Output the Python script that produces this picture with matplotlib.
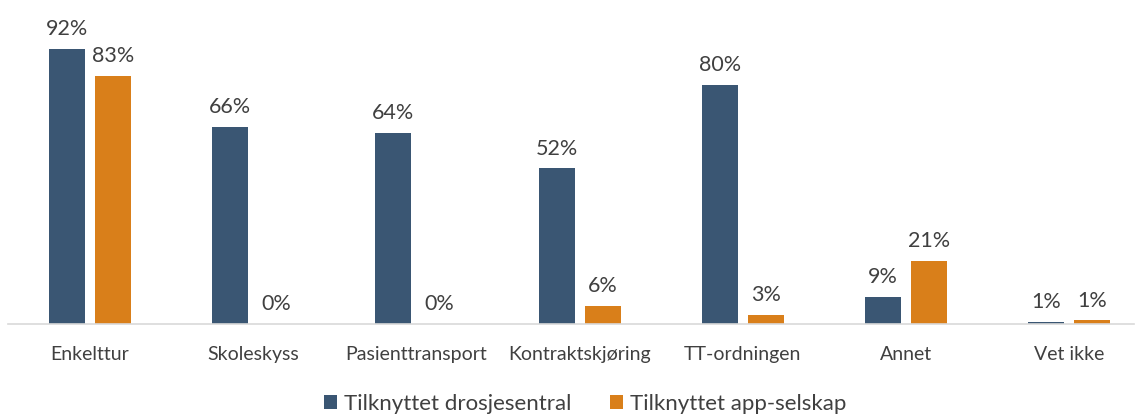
import matplotlib.pyplot as plt
import numpy as np

categories = ["Enkelttur", "Skoleskyss", "Pasienttransport", "Kontraktskjøring",
              "TT-ordningen", "Annet", "Vet ikke"]
drosjesentral = [92, 66, 64, 52, 80, 9, 0.6]
app_selskap = [83, 0, 0, 6, 3, 21, 1.2]
series_names = ["Tilknyttet drosjesentral", "Tilknyttet app-selskap"]

blue = "#3A5673"
orange = "#D97F1A"
text_color = "#404040"

plt.rcParams['font.family'] = ['Lato', 'DejaVu Sans']

fig = plt.figure(figsize=(11.43, 4.15), dpi=100)
# group spacing ~163 px, axis line stops near the right edge
ax = fig.add_axes([8.4 / 1143, 91 / 415, 1142.4 / 1143, 323 / 415])

x = np.arange(len(categories))
w = 0.22
off = 0.141
b1 = ax.bar(x - off, drosjesentral, w, color=blue, label=series_names[0])
b2 = ax.bar(x + off, app_selskap, w, color=orange, label=series_names[1])

for bars, vals in ((b1, drosjesentral), (b2, app_selskap)):
    for rect, v in zip(bars, vals):
        ax.annotate("%d%%" % round(v), (rect.get_x() + rect.get_width() / 2, v),
                    xytext=(0, 7), textcoords="offset points",
                    ha="center", va="bottom", fontsize=15.5, color=text_color)

ax.set_xlim(-0.5, len(categories) - 0.5)
ax.set_ylim(0, 108)
ax.set_yticks([])
ax.set_xticks(x)
ax.set_xticklabels(categories, fontsize=14, color=text_color)
ax.tick_params(axis="x", length=0, pad=15.5)
for s in ["top", "left", "right"]:
    ax.spines[s].set_visible(False)
ax.spines["bottom"].set_color("#D9D9D9")
ax.spines["bottom"].set_linewidth(1.2)
ax.spines["bottom"].set_bounds(-0.5, 6.40)

leg = fig.legend(loc="center", bbox_to_anchor=(0.512, 11 / 415), ncol=2, frameon=False,
                 fontsize=16, handlelength=0.6, handleheight=0.6, handletextpad=0.3,
                 columnspacing=1.75)
for t in leg.get_texts():
    t.set_color(text_color)

fig.savefig("out.png", dpi=100)
